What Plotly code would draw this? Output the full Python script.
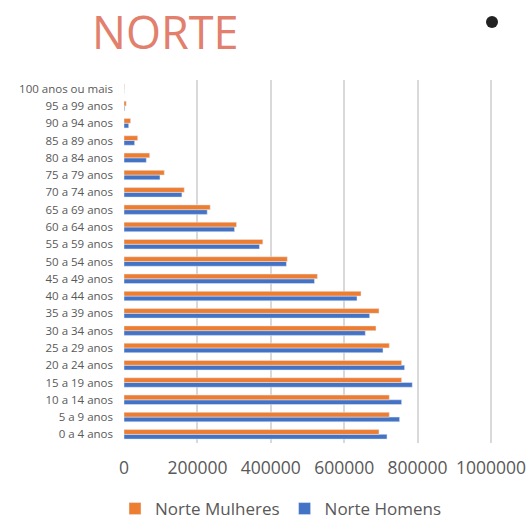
import plotly.graph_objects as go

categories = ["0 a 4 anos", "5 a 9 anos", "10 a 14 anos", "15 a 19 anos", "20 a 24 anos",
              "25 a 29 anos", "30 a 34 anos", "35 a 39 anos", "40 a 44 anos", "45 a 49 anos",
              "50 a 54 anos", "55 a 59 anos", "60 a 64 anos", "65 a 69 anos", "70 a 74 anos",
              "75 a 79 anos", "80 a 84 anos", "85 a 89 anos", "90 a 94 anos", "95 a 99 anos",
              "100 anos ou mais"]
mulheres = [694800, 722900, 722900, 756500, 756500, 722900, 686600, 694800, 645800, 527000,
            445000, 378300, 306600, 235000, 164200, 109800, 70000, 37300, 18000, 6000, 1000]
homens = [716600, 751000, 756500, 785500, 764600, 705700, 657600, 669400, 634900, 519000,
          442600, 369200, 301200, 226800, 157800, 98000, 60800, 29000, 12800, 2000, 300]
x_ticks = [0, 200000, 400000, 600000, 800000, 1000000]
x_max = 1008200

FONT = "Open Sans"
GRAY = "#595959"
W, H = 526, 520
ML, MR, MT, MB = 124, 32, 80, 77
pw = W - ML - MR
ph = H - MT - MB


def px(xp):
    return (xp - ML) / pw


def py(yp):
    return (H - MB - yp) / ph


fig = go.Figure()
fig.add_trace(go.Bar(y=categories, x=homens, name="Norte Homens", orientation="h",
                     marker=dict(color="#4472C4")))
fig.add_trace(go.Bar(y=categories, x=mulheres, name="Norte Mulheres", orientation="h",
                     marker=dict(color="#ED7D31")))

fig.update_layout(
    width=W, height=H,
    margin=dict(l=ML, r=MR, t=MT, b=MB, autoexpand=False),
    paper_bgcolor="white", plot_bgcolor="white",
    barmode="group", bargap=0.45, bargroupgap=0,
    font=dict(family=FONT, color=GRAY),
    showlegend=True,
    legend=dict(orientation="h", traceorder="reversed",
                xref="container", yref="container",
                x=281 / W, xanchor="center", y=1 - 509 / H, yanchor="middle",
                font=dict(size=17, color=GRAY, family=FONT)),
    annotations=[
        dict(text="NORTE", x=px(165), y=py(31), xref="paper", yref="paper",
             showarrow=False, xanchor="center", yanchor="middle",
             font=dict(size=45, color="#E27F6D", family=FONT)),
    ],
    shapes=[
        dict(type="circle", xref="paper", yref="paper",
             x0=px(486), x1=px(498), y0=py(28), y1=py(16),
             fillcolor="#222222", line=dict(width=0)),
    ],
)

fig.update_xaxes(range=[0, x_max], tickvals=x_ticks, ticktext=[str(v) for v in x_ticks],
                 showgrid=True, gridcolor="#D9D9D9", gridwidth=1.5, zeroline=False,
                 tickfont=dict(size=17.5, color=GRAY, family=FONT), ticks="", showline=False,
                 ticklabelstandoff=12, automargin=False, ticklabeloverflow="allow")
fig.update_yaxes(categoryorder="array", categoryarray=categories, showgrid=False,
                 tickfont=dict(size=11.5, color=GRAY, family=FONT), ticks="", showline=False,
                 ticklabelstandoff=10, automargin=False)

fig.write_html("out.html", config={"displayModeBar": False},
               post_script="document.body.style.margin='0';")
